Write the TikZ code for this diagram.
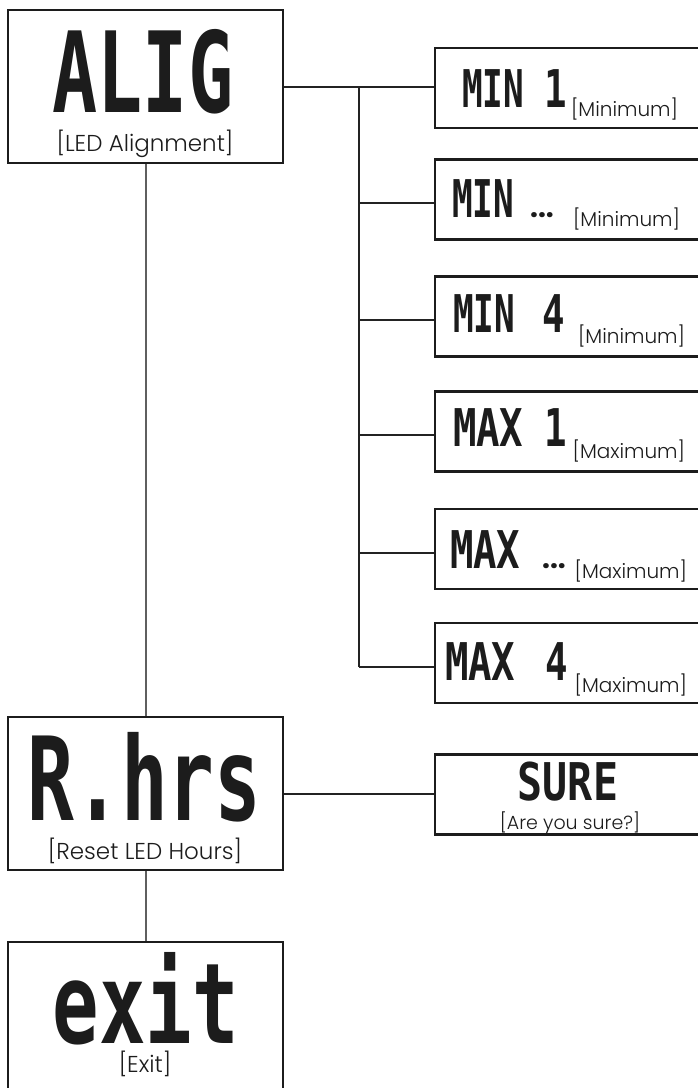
\documentclass[tikz,border=0pt]{standalone}
\usepackage{fontspec}
\usepackage{graphicx}
\setmainfont{Poppins Light}
\newfontfamily\segfont{DejaVu Sans Mono}
\newfontfamily\dotfont{Poppins}
\newcommand\segtext[3]{{\segfont\bfseries\fontsize{#1}{#1}\selectfont\scalebox{#2}[1]{#3}}}
\newcommand\labtext[2]{{\fontsize{#1}{#1}\selectfont #2}}
\definecolor{boxcol}{RGB}{28,28,28}
\definecolor{linecol}{RGB}{35,35,35}
\definecolor{vcol}{RGB}{95,95,95}
\begin{document}
\begin{tikzpicture}[x=1pt,y=-1pt,
  leftbox/.style={draw=boxcol, line width=2.8pt, minimum width=275pt, inner sep=0pt},
  rightbox/.style={draw=boxcol, line width=2.8pt, minimum width=300pt, minimum height=80pt, inner sep=0pt},
  txt/.style={inner sep=0pt, outer sep=0pt, text=boxcol},
  segtxt/.style={txt, text depth=0pt},
  conn/.style={draw=linecol, line width=2pt},
  vconn/.style={draw=vcol, line width=2pt}]
\useasboundingbox (0,0) rectangle (698,1088);
\clip (0,0) rectangle (698,1088);
% left boxes
\node[leftbox, minimum height=153pt] (alig) at (145.5,86.5) {};
\node[leftbox, minimum height=153pt] (rhrs) at (145.5,793.5) {};
\node[leftbox, minimum height=153pt] (exit) at (145.5,1018.5) {};
% right boxes
\node[rightbox] (min1) at (585,88) {};
\node[rightbox] (mind) at (585,199.5) {};
\node[rightbox] (min4) at (585,316.5) {};
\node[rightbox] (max1) at (585,431.5) {};
\node[rightbox] (maxd) at (585,549) {};
\node[rightbox] (max4) at (585,663) {};
\node[rightbox] (sure) at (585,794.5) {};
% connectors
\coordinate (br) at (359,86.5);
\foreach \b in {mind,min4,max1,maxd,max4}{
  \coordinate (\b c) at ([yshift=-3.5pt]\b.west);
}
\draw[conn] (alig.east) -- (alig.east -| min1.west);
\draw[conn] (br) -- (br |- max4c);
\foreach \b in {mind,min4,max1,maxd,max4}{
  \draw[conn] (br |- \b c) -- (\b c);
}
\draw[vconn] (alig.south) -- (rhrs.north);
\draw[vconn] (rhrs.south) -- (exit.north);
\draw[conn] (rhrs.east) -- (rhrs.east -| sure.west);
% texts left
\node[segtxt, anchor=base] (aligT) at (143,112) {\segtext{112}{0.67}{ALIG}};
\node[txt, anchor=base] (aligL) at (145,151) {\labtext{23}{[LED Alignment]}};
\node[segtxt, anchor=base] (rhrsT) at (144.5,820) {\segtext{116}{0.67}{R.hrs}};
\node[txt, anchor=base] (rhrsL) at (145,859) {\labtext{23}{[Reset LED Hours]}};
\node[segtxt, anchor=base] (exitT) at (146,1043) {\segtext{112}{0.69}{exit}};
\node[txt, anchor=base] (exitL) at (145,1072) {\labtext{23}{[Exit]}};
% texts right
\node[segtxt, anchor=base west] (min1T) at (462,107) {\segtext{52}{0.66}{MIN}};
\node[segtxt, anchor=base] (min1D) at (556,107) {\segtext{52}{0.72}{1}};
\node[txt, anchor=base east] (min1L) at (678,116) {\labtext{20}{[Minimum]}};
\node[segtxt, anchor=base west] (mindT) at (452,217) {\segtext{52}{0.66}{MIN}};
\node[txt, anchor=base] (mindD) at (542,217) {{\dotfont\bfseries\fontsize{28}{28}\selectfont ...}};
\node[txt, anchor=base east] (mindL) at (680,226) {\labtext{20}{[Minimum]}};
\node[segtxt, anchor=base west] (min4T) at (453,332) {\segtext{52}{0.66}{MIN}};
\node[segtxt, anchor=base] (min4D) at (554,332) {\segtext{52}{0.72}{4}};
\node[txt, anchor=base east] (min4L) at (685,343) {\labtext{20}{[Minimum]}};
\node[segtxt, anchor=base west] (max1T) at (453,446) {\segtext{52}{0.75}{MAX}};
\node[segtxt, anchor=base] (max1D) at (556,446) {\segtext{52}{0.72}{1}};
\node[txt, anchor=base east] (max1L) at (685,458) {\labtext{20}{[Maximum]}};
\node[segtxt, anchor=base west] (maxdT) at (450,568) {\segtext{52}{0.75}{MAX}};
\node[txt, anchor=base] (maxdD) at (554,568) {{\dotfont\bfseries\fontsize{28}{28}\selectfont ...}};
\node[txt, anchor=base east] (maxdL) at (687,578) {\labtext{20}{[Maximum]}};
\node[segtxt, anchor=base west] (max4T) at (445,680) {\segtext{52}{0.75}{MAX}};
\node[segtxt, anchor=base] (max4D) at (557,680) {\segtext{52}{0.72}{4}};
\node[txt, anchor=base east] (max4L) at (687,692) {\labtext{20}{[Maximum]}};
\node[segtxt, anchor=base] (sureT) at (568,800) {\segtext{52}{0.8}{SURE}};
\node[txt, anchor=base] (sureL) at (570,829) {\labtext{19}{[Are you sure?]}};
\end{tikzpicture}
\end{document}
